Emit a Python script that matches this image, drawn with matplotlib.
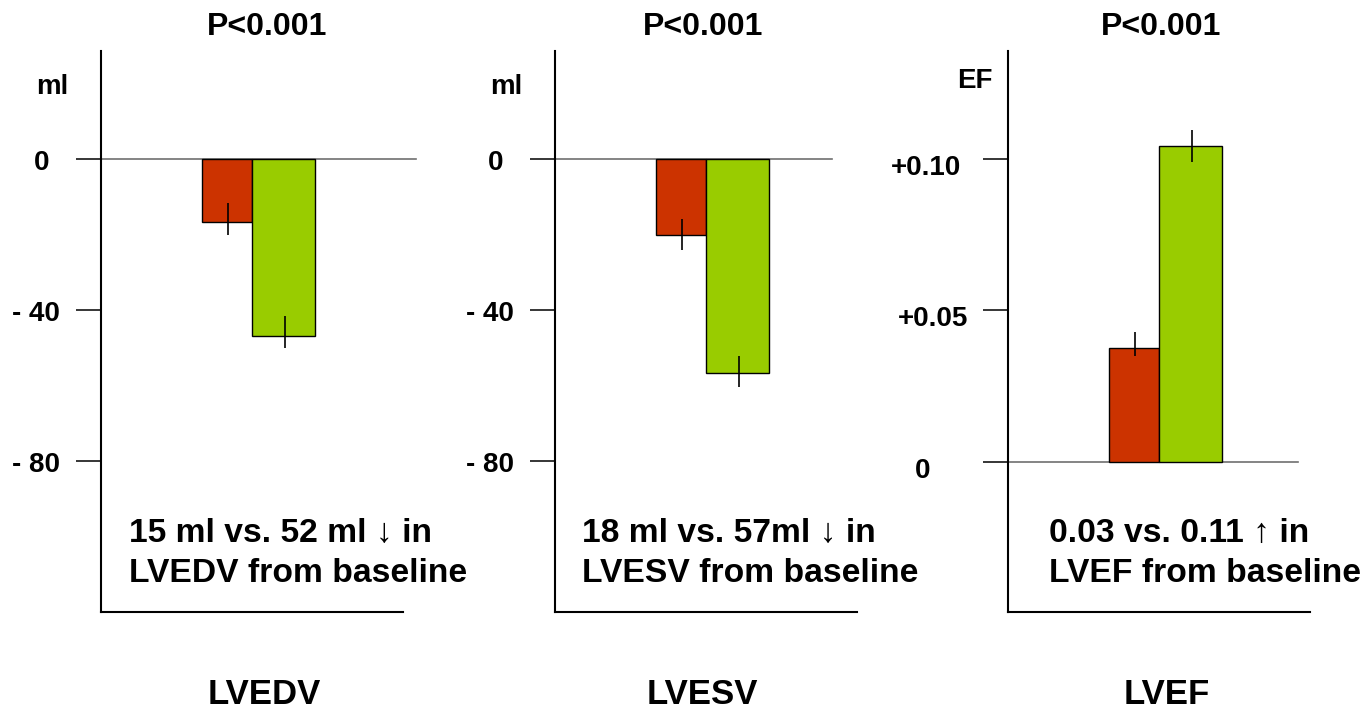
import matplotlib
matplotlib.use('Agg')
import matplotlib.pyplot as plt

plt.rcParams['font.family'] = ['Liberation Sans', 'DejaVu Sans']
plt.rcParams['font.weight'] = 'bold'

# data
panels = ['LVEDV', 'LVESV', 'LVEF']
units = ['ml', 'ml', 'EF']
p_labels = ['P<0.001', 'P<0.001', 'P<0.001']

red_vals = [-16.7, -20.1, 0.0376]
red_err_minus = [3.4, 4.1, 0.0026]
red_err_plus = [5.1, 4.2, 0.0052]

green_vals = [-46.9, -56.8, 0.1042]
green_err_minus = [3.1, 3.7, 0.0053]
green_err_plus = [5.3, 4.6, 0.0053]

tick_values = [[0, -40, -80], [0, -40, -80], [0.10, 0.05, 0]]
tick_labels = [['0', '- 40', '- 80'], ['0', '- 40', '- 80'], ['+0.10', '+0.05', '0']]
y_limits = [(-120, 28.6), (-120, 28.6), (-0.0496, 0.1355)]

notes = [['15 ml vs. 52 ml \u2193 in', 'LVEDV from baseline'],
         ['18 ml vs. 57ml \u2193 in', 'LVESV from baseline'],
         ['0.03 vs. 0.11 \u2191 in', 'LVEF from baseline']]

W, H = 1365, 712
fig = plt.figure(figsize=(W / 100, H / 100), dpi=100)

red = '#cc3300'
green = '#99cc00'

# layout in pixels
ax_left = [101, 555, 1008]
ax_top, ax_bottom, ax_w = 51, 612, 302
zero_end = [315, 277, 290]          # where the grey zero line stops
tick_dx = [[-59, -65, -65], [-59, -65, -65], [-82, -75, -85]]
tick_base = [11, 11, 16]
unit_x = [52, 506, 975]
unit_base = [94, 94, 88]
p_x = [267, 703, 1161]
name_x = [264, 702, 1167]
note_x = [129, 582, 1049]


def fx(px):
    return px / W


def fy(py):
    return 1 - py / H


for i in range(3):
    ax = fig.add_axes([fx(ax_left[i]), fy(ax_bottom), ax_w / W, (ax_bottom - ax_top) / H])
    ax.set_xlim(0, 6)
    ax.set_ylim(*y_limits[i])
    for s in ['top', 'right']:
        ax.spines[s].set_visible(False)
    ax.spines['left'].set_linewidth(1.5)
    ax.spines['bottom'].set_linewidth(1.5)
    ax.set_xticks([])
    ax.set_yticks(tick_values[i])
    ax.tick_params(axis='y', length=18, width=1.1, labelleft=False, color='black')

    # grey zero line
    ax.plot([0, zero_end[i] / ax_w], [0, 0], transform=ax.get_yaxis_transform(),
            color='#707070', lw=1.2, clip_on=False, zorder=1)

    ax.bar(2, red_vals[i], width=1.0, align='edge', color=red, edgecolor='black',
           linewidth=1.0, zorder=2)
    ax.bar(3, green_vals[i], width=1.26, align='edge', color=green, edgecolor='black',
           linewidth=1.0, zorder=2)
    ax.errorbar([2.53], [red_vals[i]], yerr=[[red_err_minus[i]], [red_err_plus[i]]],
                fmt='none', ecolor='black', elinewidth=1.2, capsize=0, zorder=3)
    ax.errorbar([3.65], [green_vals[i]], yerr=[[green_err_minus[i]], [green_err_plus[i]]],
                fmt='none', ecolor='black', elinewidth=1.2, capsize=0, zorder=3)

    # tick labels placed by hand (they are not aligned in the source)
    for v, lab, dx in zip(tick_values[i], tick_labels[i], tick_dx[i]):
        ax.annotate(lab, xy=(0, v), xycoords=('axes fraction', 'data'),
                    xytext=(dx * 0.72, -tick_base[i] * 0.72), textcoords='offset points',
                    ha='center', va='baseline', fontsize=20, fontweight='bold')

    fig.text(fx(unit_x[i]), fy(unit_base[i]), units[i], ha='center', va='baseline',
             fontsize=20, fontweight='bold')
    fig.text(fx(p_x[i]), fy(35), p_labels[i], ha='center', va='baseline',
             fontsize=23, fontweight='bold')
    fig.text(fx(name_x[i]), fy(704), panels[i], ha='center', va='baseline',
             fontsize=25, fontweight='bold')
    fig.text(fx(note_x[i]), fy(542), notes[i][0], ha='left', va='baseline',
             fontsize=24.2, fontweight='bold')
    fig.text(fx(note_x[i]), fy(581.5), notes[i][1], ha='left', va='baseline',
             fontsize=24.2, fontweight='bold')

fig.savefig('out.png', dpi=100)
